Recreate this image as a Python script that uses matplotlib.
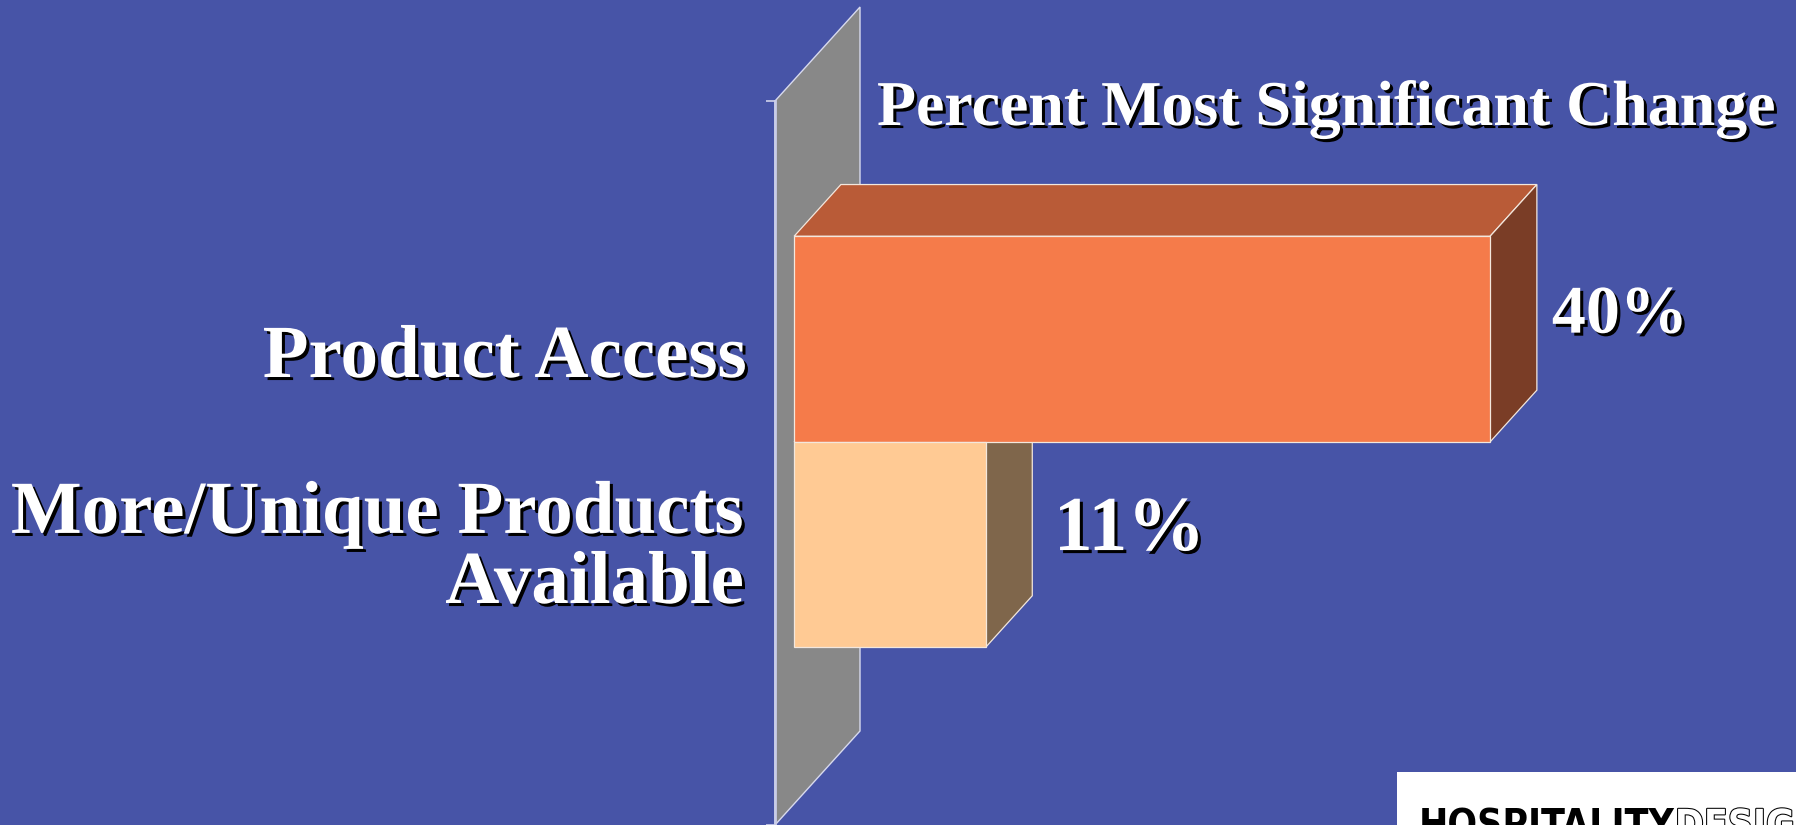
import matplotlib
matplotlib.use("Agg")
import matplotlib.pyplot as plt
import matplotlib.patheffects as pe
from matplotlib.patches import Polygon

# ---- data ----
categories = ["Product Access", "More/Unique Products\nAvailable"]
values = [40, 11]
title = "Percent Most Significant Change"
front_colors = ["#F57B4A", "#FFCA94"]
top_colors = ["#B95B37", "#C9A27A"]
side_colors = ["#7A3D26", "#7F664B"]

# ---- style ----
BG = "#4754A7"
WALL = "#888888"
EDGE = "#F3E7DD"
W, H, DPI = 1796, 825, 100
SERIF = ["Liberation Serif", "DejaVu Serif"]
shadow = [pe.withSimplePatchShadow(offset=(2.2, -2.2), shadow_rgbFace="black", alpha=1.0)]

fig = plt.figure(figsize=(W / DPI, H / DPI), dpi=DPI, facecolor=BG)


def fx(x):
    return x / W


def fy(y):
    return 1 - y / H


# plot axes lies on the front plane of the wall
PX_PER_UNIT = 17.4
XMAX = 60
ax = fig.add_axes([fx(775), 0, XMAX * PX_PER_UNIT / W, 724 / H])
ax.set_xlim(0, XMAX)
ax.set_ylim(-0.5, 0.5)
ax.patch.set_visible(False)
for s in ("top", "right", "bottom"):
    ax.spines[s].set_visible(False)
ax.spines["left"].set_color("#C9CCE8")
ax.spines["left"].set_linewidth(2)
ax.set_xticks([])
ax.set_yticks([-0.5, 0.5])
ax.set_yticklabels([])
ax.tick_params(axis="y", length=6.5, width=1.2, color="#D0D3EC", direction="out")

# depth vector of the 3-D box (data units) and depth range of the bars
DX = 85 / PX_PER_UNIT
DY = 94 / 724
D0, D1 = 0.225, 0.775
BAR_H = 0.284


def pt(x, y, d):
    return (x + d * DX, y + d * DY)


ax.add_patch(Polygon([pt(0, -0.5, 0), pt(0, 0.5, 0), pt(0, 0.5, 1), pt(0, -0.5, 1)],
                     closed=True, facecolor=WALL, edgecolor="#D8DAEE", lw=1,
                     zorder=1, clip_on=False))

centers = [BAR_H / 2, -BAR_H / 2]
for v, yc, ct, cs in zip(values, centers, top_colors, side_colors):
    y0, y1 = yc - BAR_H / 2, yc + BAR_H / 2
    ax.add_patch(Polygon([pt(0, y1, D0), pt(v, y1, D0), pt(v, y1, D1), pt(0, y1, D1)],
                         closed=True, facecolor=ct, edgecolor=EDGE, lw=0.9,
                         zorder=2, clip_on=False))
    ax.add_patch(Polygon([pt(v, y0, D0), pt(v, y1, D0), pt(v, y1, D1), pt(v, y0, D1)],
                         closed=True, facecolor=cs, edgecolor=EDGE, lw=0.9,
                         zorder=2, clip_on=False))

ax.barh([c + D0 * DY for c in centers], values, height=BAR_H, left=D0 * DX,
        color=front_colors, edgecolor=EDGE, linewidth=0.9, zorder=3)

# value labels beside the bar ends
label_sizes = [49, 56]
label_offsets = [(10.8, -14.0), (15.5, -22.5)]
for v, yc, fs, off in zip(values, centers, label_sizes, label_offsets):
    ax.annotate(f"{v}%", xy=(pt(v, yc, D1)[0], pt(v, yc, 0.5)[1]),
                xytext=off, textcoords="offset points", ha="left", va="baseline",
                fontsize=fs, fontweight="bold", family=SERIF, color="white",
                path_effects=shadow, annotation_clip=False)

# title and category labels (anchored at the baseline of the last line)
fig.text(fx(877), fy(125), title, ha="left", va="baseline", fontsize=46,
         fontweight="bold", family=SERIF, color="white", path_effects=shadow)
cat_anchor = [(747, 377), (744, 603)]
for name, (x, y) in zip(categories, cat_anchor):
    fig.text(fx(x), fy(y), name, ha="right", va="baseline", ma="right",
             fontsize=54, fontweight="bold", family=SERIF, color="white",
             linespacing=1.04, path_effects=shadow)

# logo panel in the lower right corner
lg = fig.add_axes([fx(1397), 0, (W - 1397) / W, 53 / H])
lg.set_facecolor("white")
lg.set_xticks([])
lg.set_yticks([])
for s in lg.spines.values():
    s.set_visible(False)
LOGO_FONT = ["Liberation Sans Narrow", "DejaVu Sans"]
t1 = lg.text(22 / 399, -0.23, "HOSPITALITY", transform=lg.transAxes, ha="left",
             va="baseline", fontsize=28, fontweight="heavy", color="black",
             family=LOGO_FONT, fontstretch="condensed", clip_on=True)
lg.annotate("DESIGN", xy=(1, 0), xycoords=t1, ha="left", va="bottom", fontsize=28,
            fontweight="bold", color="white", family=LOGO_FONT,
            fontstretch="condensed",
            path_effects=[pe.Stroke(linewidth=1.5, foreground="black"), pe.Normal()],
            clip_on=True)

fig.savefig("out.png", dpi=DPI, facecolor=BG)
